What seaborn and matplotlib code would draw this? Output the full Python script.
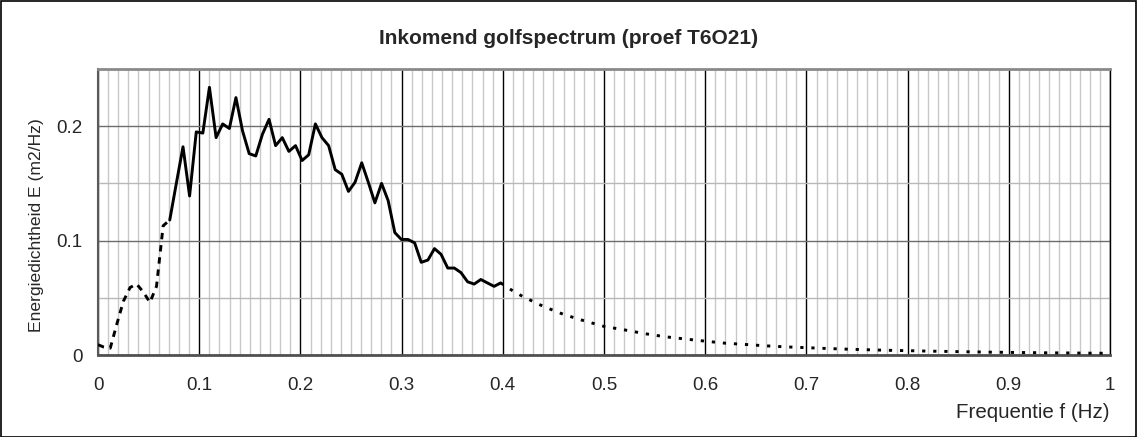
import matplotlib
matplotlib.use("Agg")
import matplotlib.pyplot as plt
import pandas as pd
import seaborn as sns
from matplotlib.ticker import MultipleLocator, FixedLocator, FixedFormatter
from matplotlib.patches import Rectangle

# Low-frequency part of the spectrum (dashed)
freq_low = [0.0, 0.0055, 0.0121, 0.0186, 0.0251, 0.0317, 0.0382, 0.0448,
            0.0513, 0.0578, 0.0644, 0.0709]
energy_low = [0.009, 0.007, 0.006, 0.027, 0.047, 0.059, 0.062, 0.055,
              0.046, 0.060, 0.113, 0.118]

# Measured spectrum (solid)
freq_meas = [0.0709, 0.0774, 0.0840, 0.0905, 0.0971, 0.1036, 0.1101, 0.1167,
             0.1232, 0.1298, 0.1363, 0.1428, 0.1494, 0.1559, 0.1625, 0.1690,
             0.1755, 0.1821, 0.1886, 0.1952, 0.2017, 0.2082, 0.2148, 0.2213,
             0.2279, 0.2344, 0.2409, 0.2475, 0.2540, 0.2606, 0.2671, 0.2736,
             0.2802, 0.2867, 0.2933, 0.2998, 0.3063, 0.3129, 0.3194, 0.3260,
             0.3325, 0.3390, 0.3456, 0.3521, 0.3587, 0.3652, 0.3717, 0.3783,
             0.3848, 0.3914, 0.3979]
energy_meas = [0.118, 0.150, 0.182, 0.139, 0.195, 0.194, 0.234, 0.190,
               0.202, 0.198, 0.225, 0.196, 0.176, 0.174, 0.193, 0.206,
               0.183, 0.190, 0.178, 0.183, 0.170, 0.175, 0.202, 0.190,
               0.183, 0.162, 0.158, 0.143, 0.151, 0.168, 0.151, 0.133,
               0.150, 0.135, 0.107, 0.101, 0.101, 0.098, 0.081, 0.083,
               0.093, 0.088, 0.076, 0.076, 0.072, 0.064, 0.062, 0.066,
               0.063, 0.060, 0.063]

# High-frequency tail (dotted)
freq_tail = [0.3979, 0.41, 0.42, 0.44, 0.46, 0.48, 0.50, 0.52, 0.54, 0.56,
             0.58, 0.60, 0.62, 0.64, 0.66, 0.68, 0.70, 0.72, 0.74, 0.76,
             0.78, 0.80, 0.82, 0.84, 0.86, 0.88, 0.90, 0.92, 0.94, 0.96,
             0.98, 1.00]
energy_tail = [0.063, 0.056, 0.051, 0.0425, 0.0355, 0.0300, 0.0250, 0.0220,
               0.0187, 0.0160, 0.0140, 0.0121, 0.0103, 0.0092, 0.0080, 0.0071,
               0.0064, 0.0057, 0.0051, 0.0046, 0.0041, 0.0038, 0.0034, 0.0031,
               0.0028, 0.0025, 0.0023, 0.0021, 0.0019, 0.0018, 0.0016, 0.0015]

x_ticks = [0, 0.1, 0.2, 0.3, 0.4, 0.5, 0.6, 0.7, 0.8, 0.9, 1.0]
x_tick_labels = ["0", "0.1", "0.2", "0.3", "0.4", "0.5", "0.6", "0.7",
                 "0.8", "0.9", "1"]
y_ticks = [0, 0.1, 0.2]
y_tick_labels = ["0", "0.1", "0.2"]

title = "Inkomend golfspectrum (proef T6O21)"
x_label = "Frequentie f (Hz)"
y_label = "Energiedichtheid E (m2/Hz)"

sns.set_style("white")
plt.rcParams["font.family"] = ["Liberation Sans", "DejaVu Sans"]

W, H = 1137, 437
fig = plt.figure(figsize=(W / 100, H / 100), dpi=100)
ax = fig.add_axes([98 / W, 1 - 355 / H, (1110 - 98) / W, (355 - 69) / H])

low = pd.DataFrame({"f": freq_low, "E": energy_low})
meas = pd.DataFrame({"f": freq_meas, "E": energy_meas})
tail = pd.DataFrame({"f": freq_tail, "E": energy_tail})

sns.lineplot(data=low, x="f", y="E", ax=ax, color="black", lw=2.1,
             sort=False, estimator=None, linestyle=(0, (2.2, 2.0)), zorder=3)
sns.lineplot(data=meas, x="f", y="E", ax=ax, color="black", lw=2.1,
             sort=False, estimator=None, zorder=4)
sns.lineplot(data=tail, x="f", y="E", ax=ax, color="black", lw=2.1,
             sort=False, estimator=None, linestyle=(0, (1.1, 2.7)), zorder=3)

ax.set_xlim(0, 1)
ax.set_ylim(0, 0.25)
ax.xaxis.set_major_locator(FixedLocator(x_ticks))
ax.xaxis.set_major_formatter(FixedFormatter(x_tick_labels))
ax.yaxis.set_major_locator(FixedLocator(y_ticks))
ax.yaxis.set_major_formatter(FixedFormatter(y_tick_labels))
ax.xaxis.set_minor_locator(MultipleLocator(0.01))
ax.yaxis.set_minor_locator(MultipleLocator(0.05))

ax.set_axisbelow(True)
ax.grid(which="minor", axis="x", color="#c8c8c8", lw=1.0)
ax.grid(which="major", axis="x", color="#000000", lw=1.0)
ax.grid(which="minor", axis="y", color="#b8b8b8", lw=1.0)
ax.grid(which="major", axis="y", color="#6e6e6e", lw=1.0)

ax.tick_params(which="minor", length=0)
ax.tick_params(which="major", length=5, width=1, direction="out",
               color="black", labelsize=13.5)
ax.tick_params(axis="x", which="major", pad=11)
ax.tick_params(axis="y", which="major", pad=6)

for side, col, w in [("top", "#8a8a8a", 2.0), ("left", "#5a5a5a", 1.5),
                     ("bottom", "#505050", 2.0), ("right", "#000000", 1.0)]:
    ax.spines[side].set_color(col)
    ax.spines[side].set_linewidth(w)
    ax.spines[side].set_visible(True)

ax.set_xlabel(x_label, fontsize=14.8, loc="right", labelpad=6)
ax.set_ylabel(y_label, fontsize=12.6)
ax.yaxis.set_label_coords(-0.0534, 0.455)

fig.text(0.5, 1 - 38 / H, title, ha="center", va="center",
         fontsize=15, fontweight="bold")

fig.patches.append(Rectangle((0.5 / W, 0.5 / H), 1 - 1.5 / W, 1 - 1.5 / H,
                             transform=fig.transFigure, fill=False,
                             edgecolor="black", lw=1.2))

fig.savefig("out.png", dpi=100)
